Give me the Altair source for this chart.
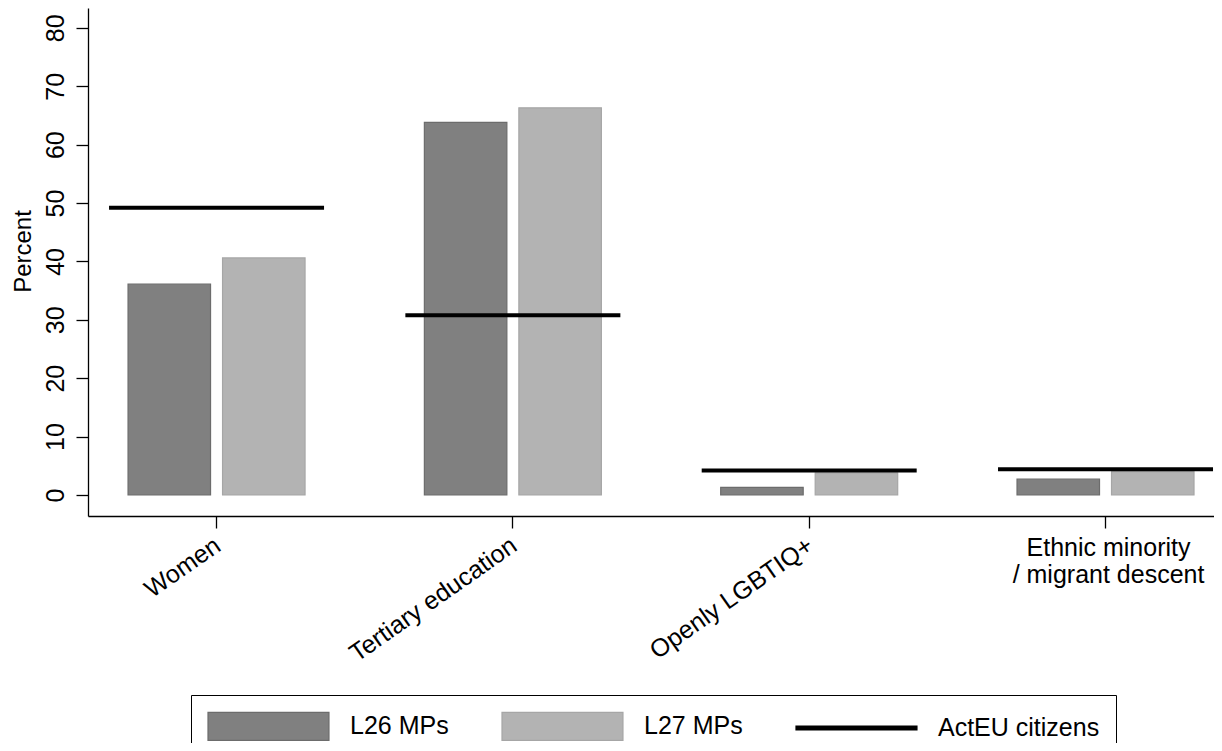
import altair as alt
import pandas as pd

# ---- data ----
categories = ["Women", "Tertiary education", "Openly LGBTIQ+", "Ethnic minority / migrant descent"]
tick_labels = ["Women", "Tertiary education", "Openly LGBTIQ+", "Ethnic minority\n/ migrant descent"]
label_rotated = [True, True, True, False]
series_names = ["L26 MPs", "L27 MPs", "ActEU citizens"]
l26_mps = [36.1, 63.8, 1.3, 2.7]
l27_mps = [40.6, 66.3, 3.8, 4.0]
acteu_citizens = [49.2, 30.8, 4.2, 4.4]
y_ticks = [0, 10, 20, 30, 40, 50, 60, 70, 80]

bars_df = pd.DataFrame({
    "category": categories + categories,
    "series": [series_names[0]] * len(categories) + [series_names[1]] * len(categories),
    "value": l26_mps + l27_mps,
})
cit_df = pd.DataFrame({
    "category": categories,
    "series": [series_names[2]] * len(categories),
    "value": acteu_citizens,
})
lab_df = pd.DataFrame({"category": categories, "label": tick_labels, "rotated": label_rotated})

FONT = "Liberation Sans"
FS = 25

x_scale = alt.Scale(domain=categories, paddingInner=0.2745, paddingOuter=0.0372, align=0.955)
y_scale = alt.Scale(domain=[-3.6, 83.4], nice=False, zero=False)
color_scale = alt.Scale(domain=series_names, range=["#808080", "#b3b3b3", "#000000"])

x_enc = alt.X(
    "category:N", scale=x_scale, sort=categories,
    axis=alt.Axis(title=None, labels=False, ticks=True, tickSize=12, tickColor="black",
                  tickWidth=1.3, domainColor="black", domainWidth=1.3, grid=False),
)
y_axis = alt.Axis(
    title="Percent", values=y_ticks, labelAngle=270, tickSize=12, tickColor="black", tickWidth=1.3,
    domainColor="black", domainWidth=1.3, grid=False, labelFont=FONT, labelFontSize=FS,
    labelColor="black", labelPadding=8, titleFont=FONT, titleFontSize=24, titleFontWeight="normal",
    titleColor="black", titlePadding=8, titleY=243,
)

# legend swatches: 121px wide, 28px tall (unit = sqrt(784)/2 = 14px)
SWATCH = "M-1,-1L7.64,-1L7.64,1L-1,1Z"
LINE = "M-1,-0.14L7.64,-0.14L7.64,0.14L-1,0.14Z"
legend = alt.Legend(
    title=None, orient="none", legendX=103, legendY=687, direction="horizontal",
    symbolType=alt.ExprRef(expr=f"datum.value === 'ActEU citizens' ? '{LINE}' : '{SWATCH}'"),
    symbolSize=784, symbolOpacity=1, symbolStrokeWidth=1.2,
    symbolStrokeColor=alt.ExprRef(expr="datum.value === 'L26 MPs' ? '#6c6c6c' : datum.value === 'L27 MPs' ? '#a6a6a6' : '#000000'"),
    labelFont=FONT, labelFontSize=FS, labelColor="black", labelOffset=113, labelLimit=400,
    columnPadding=50, padding=16, strokeColor="black",
)

bars = alt.Chart(bars_df).mark_bar(strokeWidth=1.2).encode(
    x=x_enc,
    xOffset=alt.XOffset("series:N", scale=alt.Scale(domain=series_names[:2], paddingInner=0.127, paddingOuter=0.201)),
    y=alt.Y("value:Q", scale=y_scale, axis=y_axis),
    y2=alt.datum(0),
    color=alt.Color("series:N", scale=color_scale, legend=legend),
    stroke=alt.Stroke("series:N", scale=alt.Scale(domain=series_names[:2], range=["#6c6c6c", "#a6a6a6"]), legend=None),
)

ticks = alt.Chart(cit_df).mark_tick(size=215, thickness=4, opacity=1).encode(
    x=x_enc,
    y=alt.Y("value:Q", scale=y_scale),
    color=alt.Color("series:N", scale=color_scale, legend=legend),
)

rot_labels = alt.Chart(lab_df).transform_filter("datum.rotated").mark_text(
    angle=325, align="right", baseline="alphabetic", dx=-7, dy=20, font=FONT, fontSize=FS, color="black"
).encode(x=x_enc, text="label:N", y=alt.value(521))

hor_labels = alt.Chart(lab_df).transform_filter("!datum.rotated").mark_text(
    align="center", baseline="alphabetic", lineBreak="\n", lineHeight=27, dx=3,
    font=FONT, fontSize=FS, color="black"
).encode(x=x_enc, text="label:N", y=alt.value(548))

chart = alt.layer(bars, ticks, rot_labels, hor_labels).properties(
    width=1126, height=508,
    autosize=alt.AutoSizeParams(type="none"),
    padding={"left": 80, "top": 0, "right": 0, "bottom": 227},
).configure(font=FONT).configure_view(stroke=None)

chart.save("out.html", embed_options={"renderer": "svg", "actions": False})
